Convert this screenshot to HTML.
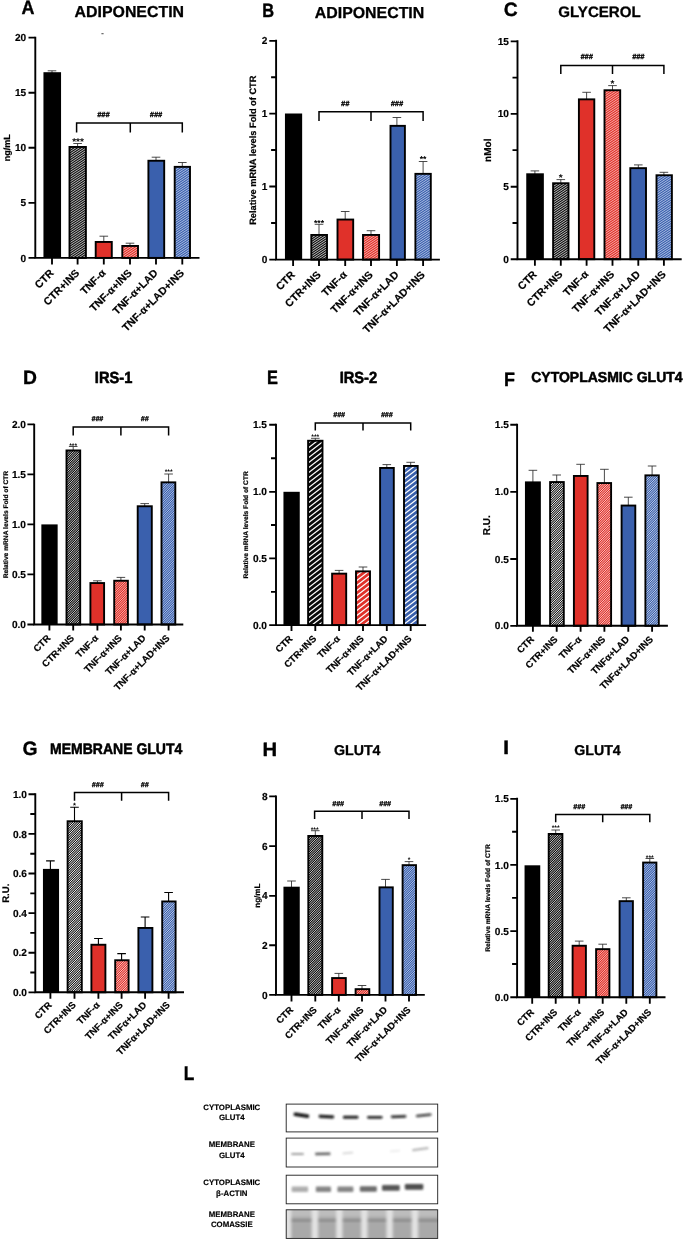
<!DOCTYPE html>
<html lang="en"><head><meta charset="utf-8"><title>Figure</title>
<style>html,body{margin:0;padding:0;background:#fff}body{width:685px;height:1240px;overflow:hidden}svg{display:block;will-change:transform;text-rendering:geometricPrecision}</style>
</head><body>
<svg width="685" height="1240" viewBox="0 0 685 1240" font-family='"Liberation Sans", Arial, Helvetica, sans-serif' fill="#000">
<defs>
<pattern id="hk" width="7" height="7" patternUnits="userSpaceOnUse"><rect width="7" height="7" fill="#101010"/><path d="M-3.500 2.333L10.500 -7.000M-3.500 4.667L10.500 -4.667M-3.500 7.000L10.500 -2.333M-3.500 9.333L10.500 -0.000M-3.500 11.667L10.500 2.333M-3.500 14.000L10.500 4.667" stroke="#e6e6e6" stroke-width="0.82" fill="none"/></pattern>
<pattern id="hr" width="7" height="7" patternUnits="userSpaceOnUse"><rect width="7" height="7" fill="#e0312a"/><path d="M-3.500 2.333L10.500 -7.000M-3.500 4.667L10.500 -4.667M-3.500 7.000L10.500 -2.333M-3.500 9.333L10.500 -0.000M-3.500 11.667L10.500 2.333M-3.500 14.000L10.500 4.667" stroke="#ffe4e1" stroke-width="0.7" fill="none"/></pattern>
<pattern id="hb" width="7" height="7" patternUnits="userSpaceOnUse"><rect width="7" height="7" fill="#3a60ad"/><path d="M-3.500 2.333L10.500 -7.000M-3.500 4.667L10.500 -4.667M-3.500 7.000L10.500 -2.333M-3.500 9.333L10.500 -0.000M-3.500 11.667L10.500 2.333M-3.500 14.000L10.500 4.667" stroke="#e3ebfc" stroke-width="0.68" fill="none"/></pattern>
<pattern id="hkc" width="13" height="10" patternUnits="userSpaceOnUse"><rect width="13" height="10" fill="#0a0a0a"/><path d="M-6.500 5.000L19.500 -15.000M-6.500 10.000L19.500 -10.000M-6.500 15.000L19.500 -5.000M-6.500 20.000L19.500 0.000M-6.500 25.000L19.500 5.000" stroke="#fff" stroke-width="1.25" fill="none"/></pattern>
<pattern id="hrc" width="13" height="10" patternUnits="userSpaceOnUse"><rect width="13" height="10" fill="#e0312a"/><path d="M-6.500 5.000L19.500 -15.000M-6.500 10.000L19.500 -10.000M-6.500 15.000L19.500 -5.000M-6.500 20.000L19.500 0.000M-6.500 25.000L19.500 5.000" stroke="#fff" stroke-width="1.25" fill="none"/></pattern>
<pattern id="hbc" width="13" height="10" patternUnits="userSpaceOnUse"><rect width="13" height="10" fill="#3a60ad"/><path d="M-6.500 5.000L19.500 -15.000M-6.500 10.000L19.500 -10.000M-6.500 15.000L19.500 -5.000M-6.500 20.000L19.500 0.000M-6.500 25.000L19.500 5.000" stroke="#fff" stroke-width="1.25" fill="none"/></pattern>
<pattern id="hkm" width="7" height="7" patternUnits="userSpaceOnUse"><rect width="7" height="7" fill="#101010"/><path d="M-2.333 2.333L9.333 -9.333M-2.333 4.667L9.333 -7.000M-2.333 7.000L9.333 -4.667M-2.333 9.333L9.333 -2.333M-2.333 11.667L9.333 0.000M-2.333 14.000L9.333 2.333M-2.333 16.333L9.333 4.667" stroke="#f0f0f0" stroke-width="0.8" fill="none"/></pattern>
<pattern id="hrm" width="7" height="7" patternUnits="userSpaceOnUse"><rect width="7" height="7" fill="#e0312a"/><path d="M-2.333 2.333L9.333 -9.333M-2.333 4.667L9.333 -7.000M-2.333 7.000L9.333 -4.667M-2.333 9.333L9.333 -2.333M-2.333 11.667L9.333 0.000M-2.333 14.000L9.333 2.333M-2.333 16.333L9.333 4.667" stroke="#ffe4e1" stroke-width="0.7" fill="none"/></pattern>
<pattern id="hbm" width="7" height="7" patternUnits="userSpaceOnUse"><rect width="7" height="7" fill="#3a60ad"/><path d="M-2.333 2.333L9.333 -9.333M-2.333 4.667L9.333 -7.000M-2.333 7.000L9.333 -4.667M-2.333 9.333L9.333 -2.333M-2.333 11.667L9.333 0.000M-2.333 14.000L9.333 2.333M-2.333 16.333L9.333 4.667" stroke="#e3ebfc" stroke-width="0.68" fill="none"/></pattern>
<pattern id="hkl" width="7" height="7" patternUnits="userSpaceOnUse"><rect width="7" height="7" fill="#1c1c1c"/><path d="M-2.333 2.333L9.333 -9.333M-2.333 4.667L9.333 -7.000M-2.333 7.000L9.333 -4.667M-2.333 9.333L9.333 -2.333M-2.333 11.667L9.333 0.000M-2.333 14.000L9.333 2.333M-2.333 16.333L9.333 4.667" stroke="#fff" stroke-width="0.93" fill="none"/></pattern>
<pattern id="hrl" width="7" height="7" patternUnits="userSpaceOnUse"><rect width="7" height="7" fill="#e0312a"/><path d="M-2.333 2.333L9.333 -9.333M-2.333 4.667L9.333 -7.000M-2.333 7.000L9.333 -4.667M-2.333 9.333L9.333 -2.333M-2.333 11.667L9.333 0.000M-2.333 14.000L9.333 2.333M-2.333 16.333L9.333 4.667" stroke="#fff" stroke-width="0.72" fill="none"/></pattern>
<pattern id="hbl" width="7" height="7" patternUnits="userSpaceOnUse"><rect width="7" height="7" fill="#3a60ad"/><path d="M-2.333 2.333L9.333 -9.333M-2.333 4.667L9.333 -7.000M-2.333 7.000L9.333 -4.667M-2.333 9.333L9.333 -2.333M-2.333 11.667L9.333 0.000M-2.333 14.000L9.333 2.333M-2.333 16.333L9.333 4.667" stroke="#fff" stroke-width="0.68" fill="none"/></pattern>
<filter id="bl" x="-20%" y="-100%" width="140%" height="300%"><feGaussianBlur stdDeviation="0.85"/></filter>
<filter id="bl2" x="-20%" y="-100%" width="140%" height="300%"><feGaussianBlur stdDeviation="1.6"/></filter>
<filter id="bl3" x="-100%" y="-10%" width="300%" height="120%"><feGaussianBlur stdDeviation="1.5 0.1"/></filter>
<filter id="bl4" x="-20%" y="-100%" width="140%" height="300%"><feGaussianBlur stdDeviation="0.95"/></filter>
</defs>
<rect width="685" height="1240" fill="#fff"/>
<g>
<text transform="translate(21.55 14.2) scale(0.93 1)" font-size="19.3" font-weight="bold" stroke="#000" stroke-width="0.38" stroke-linejoin="round">A</text>
<text transform="translate(129.3 16.9) scale(1 1)" font-size="15.9" font-weight="bold" text-anchor="middle" stroke="#000" stroke-width="0.3" stroke-linejoin="round">ADIPONECTIN</text>
<path d="M52 73.2V70.8M47.7 70.8H56.3" stroke="#2a2a2a" stroke-width="0.85" fill="none"/>
<rect x="43.45" y="72.2" width="17.6" height="185.7" fill="#000"/>
<path d="M77.6 147V143.5M73.3 143.5H81.9" stroke="#2a2a2a" stroke-width="0.85" fill="none"/>
<rect x="69.5" y="146.95" width="16.4" height="110.95" fill="url(#hk)" stroke="#000" stroke-width="1.9"/>
<path d="M103.8 242V236.2M99.5 236.2H108.1" stroke="#2a2a2a" stroke-width="0.85" fill="none"/>
<rect x="95.7" y="241.95" width="16.1" height="15.95" fill="#e0312a" stroke="#000" stroke-width="1.9"/>
<path d="M130 246V243.2M125.7 243.2H134.3" stroke="#2a2a2a" stroke-width="0.85" fill="none"/>
<rect x="122.3" y="245.95" width="15.7" height="11.95" fill="url(#hr)" stroke="#000" stroke-width="1.9"/>
<path d="M156 160.8V157.2M151.7 157.2H160.3" stroke="#2a2a2a" stroke-width="0.85" fill="none"/>
<rect x="148.4" y="160.75" width="15.8" height="97.15" fill="#3a60ad" stroke="#000" stroke-width="1.9"/>
<path d="M182.3 166.9V162.5M178 162.5H186.6" stroke="#2a2a2a" stroke-width="0.85" fill="none"/>
<rect x="174.7" y="166.85" width="15.3" height="91.05" fill="url(#hb)" stroke="#000" stroke-width="1.9"/>
<path d="M35.3 36.65V258.85M34.35 257.9H199.5" stroke="#000" stroke-width="1.9" fill="none"/>
<path d="M35.3 37.6H28.5M35.3 92.7H28.5M35.3 147.7H28.5M35.3 202.8H28.5M35.3 257.9H28.5M52 257.9V264.4M77.6 257.9V264.4M103.8 257.9V264.4M130 257.9V264.4M156 257.9V264.4M182.3 257.9V264.4" stroke="#000" stroke-width="1.85" fill="none"/>
<text x="26.2" y="41.22" font-size="10.1" font-weight="bold" text-anchor="end" stroke="#000" stroke-width="0.18">20</text>
<text x="26.2" y="96.32" font-size="10.1" font-weight="bold" text-anchor="end" stroke="#000" stroke-width="0.18">15</text>
<text x="26.2" y="151.32" font-size="10.1" font-weight="bold" text-anchor="end" stroke="#000" stroke-width="0.18">10</text>
<text x="26.2" y="206.42" font-size="10.1" font-weight="bold" text-anchor="end" stroke="#000" stroke-width="0.18">5</text>
<text x="26.2" y="261.52" font-size="10.1" font-weight="bold" text-anchor="end" stroke="#000" stroke-width="0.18">0</text>
<text transform="translate(6.9 147.75) rotate(-90)" font-size="9.0" font-weight="bold" text-anchor="middle" dy="3.22" stroke="#000" stroke-width="0.2">ng/mL</text>
<text transform="translate(54.5 273.7) rotate(-45)" font-size="10.6" font-weight="bold" text-anchor="end" stroke="#000" stroke-width="0.18">CTR</text>
<text transform="translate(80.1 273.7) rotate(-45)" font-size="10.6" font-weight="bold" text-anchor="end" stroke="#000" stroke-width="0.18">CTR+INS</text>
<text transform="translate(106.3 273.7) rotate(-45)" font-size="10.6" font-weight="bold" text-anchor="end" stroke="#000" stroke-width="0.18">TNF-α</text>
<text transform="translate(132.5 273.7) rotate(-45)" font-size="10.6" font-weight="bold" text-anchor="end" stroke="#000" stroke-width="0.18">TNF-α+INS</text>
<text transform="translate(158.5 273.7) rotate(-45)" font-size="10.6" font-weight="bold" text-anchor="end" stroke="#000" stroke-width="0.18">TNF-α+LAD</text>
<text transform="translate(184.8 273.7) rotate(-45)" font-size="10.6" font-weight="bold" text-anchor="end" stroke="#000" stroke-width="0.18">TNF-α+LAD+INS</text>
<path d="M76.6 132.6V122.9H182.3V132.6M130.3 122.9V132.6" stroke="#000" stroke-width="1.5" fill="none"/>
<text x="103.4" y="116.86" font-size="7.4" font-style="italic" font-weight="bold" text-anchor="middle" fill="#000" stroke="#000" stroke-width="0.3">###</text>
<text x="156" y="116.86" font-size="7.4" font-style="italic" font-weight="bold" text-anchor="middle" fill="#000" stroke="#000" stroke-width="0.3">###</text>
<text x="78" y="145.05" font-size="10" font-weight="bold" text-anchor="middle" fill="#000">***</text>
</g>
<g>
<text transform="translate(262.3 17.2) scale(0.85 1)" font-size="19.3" font-weight="bold" stroke="#000" stroke-width="0.41" stroke-linejoin="round">B</text>
<text transform="translate(369.5 17.6) scale(1 1)" font-size="15.9" font-weight="bold" text-anchor="middle" stroke="#000" stroke-width="0.3" stroke-linejoin="round">ADIPONECTIN</text>
<rect x="284.95" y="113.5" width="17.2" height="146.1" fill="#000"/>
<path d="M319 235V224.3M314.7 224.3H323.3" stroke="#2a2a2a" stroke-width="0.85" fill="none"/>
<rect x="311.3" y="234.95" width="15.7" height="24.65" fill="url(#hk)" stroke="#000" stroke-width="1.9"/>
<path d="M345.2 219.6V211.5M340.9 211.5H349.5" stroke="#2a2a2a" stroke-width="0.85" fill="none"/>
<rect x="337.5" y="219.55" width="15.7" height="40.05" fill="#e0312a" stroke="#000" stroke-width="1.9"/>
<path d="M371 235V230.7M366.7 230.7H375.3" stroke="#2a2a2a" stroke-width="0.85" fill="none"/>
<rect x="363" y="234.95" width="16.1" height="24.65" fill="url(#hr)" stroke="#000" stroke-width="1.9"/>
<path d="M396.9 125.9V117.5M392.6 117.5H401.2" stroke="#2a2a2a" stroke-width="0.85" fill="none"/>
<rect x="390.5" y="125.85" width="14.4" height="133.75" fill="#3a60ad" stroke="#000" stroke-width="1.9"/>
<path d="M423.1 173.9V161.5M418.8 161.5H427.4" stroke="#2a2a2a" stroke-width="0.85" fill="none"/>
<rect x="415.4" y="173.85" width="15.4" height="85.75" fill="url(#hb)" stroke="#000" stroke-width="1.9"/>
<path d="M276.1 39.85V260.55M275.15 259.6H439.9" stroke="#000" stroke-width="1.9" fill="none"/>
<path d="M276.1 40.8H269.3M276.1 113.6H269.3M276.1 186.5H269.3M276.1 259.6H269.3M276.1 77.2H271.1M276.1 150H271.1M276.1 223H271.1M293.1 259.6V266.1M319 259.6V266.1M345.2 259.6V266.1M371 259.6V266.1M396.9 259.6V266.1M423.1 259.6V266.1" stroke="#000" stroke-width="1.85" fill="none"/>
<text x="267.3" y="44.42" font-size="10.1" font-weight="bold" text-anchor="end" stroke="#000" stroke-width="0.18">2</text>
<text x="267.3" y="117.22" font-size="10.1" font-weight="bold" text-anchor="end" stroke="#000" stroke-width="0.18">1</text>
<text x="267.3" y="190.12" font-size="10.1" font-weight="bold" text-anchor="end" stroke="#000" stroke-width="0.18">1</text>
<text x="267.3" y="263.22" font-size="10.1" font-weight="bold" text-anchor="end" stroke="#000" stroke-width="0.18">0</text>
<text transform="translate(252.8 150.2) rotate(-90)" font-size="9.26" font-weight="bold" text-anchor="middle" dy="3.32" stroke="#000" stroke-width="0.2">Relative mRNA levels Fold of CTR</text>
<text transform="translate(295.6 275.4) rotate(-45)" font-size="10.6" font-weight="bold" text-anchor="end" stroke="#000" stroke-width="0.18">CTR</text>
<text transform="translate(321.5 275.4) rotate(-45)" font-size="10.6" font-weight="bold" text-anchor="end" stroke="#000" stroke-width="0.18">CTR+INS</text>
<text transform="translate(347.7 275.4) rotate(-45)" font-size="10.6" font-weight="bold" text-anchor="end" stroke="#000" stroke-width="0.18">TNF-α</text>
<text transform="translate(373.5 275.4) rotate(-45)" font-size="10.6" font-weight="bold" text-anchor="end" stroke="#000" stroke-width="0.18">TNF-α+INS</text>
<text transform="translate(399.4 275.4) rotate(-45)" font-size="10.6" font-weight="bold" text-anchor="end" stroke="#000" stroke-width="0.18">TNF-α+LAD</text>
<text transform="translate(425.6 275.4) rotate(-45)" font-size="10.6" font-weight="bold" text-anchor="end" stroke="#000" stroke-width="0.18">TNF-α+LAD+INS</text>
<path d="M319 120.9V111.8H423.1V120.9M371 111.8V120.9" stroke="#000" stroke-width="1.5" fill="none"/>
<text x="345.2" y="105.66" font-size="7.4" font-style="italic" font-weight="bold" text-anchor="middle" fill="#000" stroke="#000" stroke-width="0.3">##</text>
<text x="396.9" y="105.66" font-size="7.4" font-style="italic" font-weight="bold" text-anchor="middle" fill="#000" stroke="#000" stroke-width="0.3">###</text>
<text x="319" y="225.94" font-size="8.6" font-weight="bold" text-anchor="middle" fill="#000">***</text>
<text x="423.1" y="162.44" font-size="8.6" font-weight="bold" text-anchor="middle" fill="#000">**</text>
</g>
<g>
<text transform="translate(503.71 16.2) scale(1.0 1)" font-size="19.3" font-weight="bold" stroke="#000" stroke-width="0.35" stroke-linejoin="round">C</text>
<text transform="translate(599.5 17.4) scale(1 1)" font-size="15.1" font-weight="bold" text-anchor="middle" stroke="#000" stroke-width="0.3" stroke-linejoin="round">GLYCEROL</text>
<path d="M534.9 174.3V170.9M530.6 170.9H539.2" stroke="#2a2a2a" stroke-width="0.85" fill="none"/>
<rect x="526.25" y="173.3" width="17.6" height="85.9" fill="#000"/>
<path d="M560.8 183.3V179.6M556.5 179.6H565.1" stroke="#2a2a2a" stroke-width="0.85" fill="none"/>
<rect x="553.1" y="183.25" width="15.4" height="75.95" fill="url(#hk)" stroke="#000" stroke-width="1.9"/>
<path d="M586.6 99.4V92.3M582.3 92.3H590.9" stroke="#2a2a2a" stroke-width="0.85" fill="none"/>
<rect x="578.9" y="99.35" width="15.4" height="159.85" fill="#e0312a" stroke="#000" stroke-width="1.9"/>
<path d="M612.5 90.3V85.6M608.2 85.6H616.8" stroke="#2a2a2a" stroke-width="0.85" fill="none"/>
<rect x="604.5" y="90.25" width="15.7" height="168.95" fill="url(#hr)" stroke="#000" stroke-width="1.9"/>
<path d="M638.3 168.2V164.9M634 164.9H642.6" stroke="#2a2a2a" stroke-width="0.85" fill="none"/>
<rect x="630.3" y="168.15" width="15.7" height="91.05" fill="#3a60ad" stroke="#000" stroke-width="1.9"/>
<path d="M663.9 175.3V172.3M659.6 172.3H668.2" stroke="#2a2a2a" stroke-width="0.85" fill="none"/>
<rect x="656.5" y="175.25" width="15.4" height="83.95" fill="url(#hb)" stroke="#000" stroke-width="1.9"/>
<path d="M517.5 40.35V260.15M516.55 259.2H681.7" stroke="#000" stroke-width="1.9" fill="none"/>
<path d="M517.5 41.3H510.7M517.5 113.8H510.7M517.5 186.7H510.7M517.5 259.2H510.7M517.5 77.6H512.5M517.5 150.1H512.5M517.5 223H512.5M534.9 259.2V265.7M560.8 259.2V265.7M586.6 259.2V265.7M612.5 259.2V265.7M638.3 259.2V265.7M663.9 259.2V265.7" stroke="#000" stroke-width="1.85" fill="none"/>
<text x="508.9" y="44.92" font-size="10.1" font-weight="bold" text-anchor="end" stroke="#000" stroke-width="0.18">15</text>
<text x="508.9" y="117.42" font-size="10.1" font-weight="bold" text-anchor="end" stroke="#000" stroke-width="0.18">10</text>
<text x="508.9" y="190.32" font-size="10.1" font-weight="bold" text-anchor="end" stroke="#000" stroke-width="0.18">5</text>
<text x="508.9" y="262.82" font-size="10.1" font-weight="bold" text-anchor="end" stroke="#000" stroke-width="0.18">0</text>
<text transform="translate(487.6 150.25) rotate(-90)" font-size="10.0" font-weight="bold" text-anchor="middle" dy="3.58" stroke="#000" stroke-width="0.2">nMol</text>
<text transform="translate(537.4 275) rotate(-45)" font-size="10.6" font-weight="bold" text-anchor="end" stroke="#000" stroke-width="0.18">CTR</text>
<text transform="translate(563.3 275) rotate(-45)" font-size="10.6" font-weight="bold" text-anchor="end" stroke="#000" stroke-width="0.18">CTR+INS</text>
<text transform="translate(589.1 275) rotate(-45)" font-size="10.6" font-weight="bold" text-anchor="end" stroke="#000" stroke-width="0.18">TNF-α</text>
<text transform="translate(615 275) rotate(-45)" font-size="10.6" font-weight="bold" text-anchor="end" stroke="#000" stroke-width="0.18">TNF-α+INS</text>
<text transform="translate(640.8 275) rotate(-45)" font-size="10.6" font-weight="bold" text-anchor="end" stroke="#000" stroke-width="0.18">TNF-α+LAD</text>
<text transform="translate(666.4 275) rotate(-45)" font-size="10.6" font-weight="bold" text-anchor="end" stroke="#000" stroke-width="0.18">TNF-α+LAD+INS</text>
<path d="M560.8 73.9V65.5H663.9V73.9M612.5 65.5V73.9" stroke="#000" stroke-width="1.5" fill="none"/>
<text x="586.6" y="58.66" font-size="7.4" font-style="italic" font-weight="bold" text-anchor="middle" fill="#000" stroke="#000" stroke-width="0.3">###</text>
<text x="638.3" y="58.66" font-size="7.4" font-style="italic" font-weight="bold" text-anchor="middle" fill="#000" stroke="#000" stroke-width="0.3">###</text>
<text x="560.8" y="181.15" font-size="10" font-weight="bold" text-anchor="middle" fill="#000">*</text>
<text x="612.5" y="87.15" font-size="10" font-weight="bold" text-anchor="middle" fill="#000">*</text>
</g>
<g>
<text transform="translate(22.91 383.6) scale(1.0 1)" font-size="19.3" font-weight="bold" stroke="#000" stroke-width="0.35" stroke-linejoin="round">D</text>
<text transform="translate(113.6 383.3) scale(0.91 1)" font-size="16.15" font-weight="bold" text-anchor="middle" stroke="#000" stroke-width="0.55" stroke-linejoin="round">IRS-1</text>
<rect x="41.35" y="524.4" width="16.3" height="100.1" fill="#000"/>
<path d="M73.2 450.5V446.5M68.9 446.5H77.5" stroke="#2a2a2a" stroke-width="0.85" fill="none"/>
<rect x="66.5" y="450.45" width="13.7" height="174.05" fill="url(#hkm)" stroke="#000" stroke-width="1.9"/>
<path d="M97.4 583.1V580.8M93.1 580.8H101.7" stroke="#2a2a2a" stroke-width="0.85" fill="none"/>
<rect x="90.4" y="583.05" width="13.7" height="41.45" fill="#e0312a" stroke="#000" stroke-width="1.9"/>
<path d="M120.9 580.8V577.4M116.6 577.4H125.2" stroke="#2a2a2a" stroke-width="0.85" fill="none"/>
<rect x="114.2" y="580.75" width="13.7" height="43.75" fill="url(#hrm)" stroke="#000" stroke-width="1.9"/>
<path d="M144.7 506.3V503.6M140.4 503.6H149" stroke="#2a2a2a" stroke-width="0.85" fill="none"/>
<rect x="137.7" y="506.25" width="14.1" height="118.25" fill="#3a60ad" stroke="#000" stroke-width="1.9"/>
<path d="M168.6 482.4V474M164.3 474H172.9" stroke="#2a2a2a" stroke-width="0.85" fill="none"/>
<rect x="161.5" y="482.35" width="13.8" height="142.15" fill="url(#hbm)" stroke="#000" stroke-width="1.9"/>
<path d="M34.2 423.65V625.45M33.25 624.5H183.3" stroke="#000" stroke-width="1.9" fill="none"/>
<path d="M34.2 424.3H27.4M34.2 474.4H27.4M34.2 524.4H27.4M34.2 574.4H27.4M34.2 624.5H27.4M49.4 624.5V630.5M73.2 624.5V630.5M97.4 624.5V630.5M120.9 624.5V630.5M144.7 624.5V630.5M168.6 624.5V630.5" stroke="#000" stroke-width="1.85" fill="none"/>
<text x="26" y="427.92" font-size="10.1" font-weight="bold" text-anchor="end" stroke="#000" stroke-width="0.18">2.0</text>
<text x="26" y="478.02" font-size="10.1" font-weight="bold" text-anchor="end" stroke="#000" stroke-width="0.18">1.5</text>
<text x="26" y="528.02" font-size="10.1" font-weight="bold" text-anchor="end" stroke="#000" stroke-width="0.18">1.0</text>
<text x="26" y="578.02" font-size="10.1" font-weight="bold" text-anchor="end" stroke="#000" stroke-width="0.18">0.5</text>
<text x="26" y="628.12" font-size="10.1" font-weight="bold" text-anchor="end" stroke="#000" stroke-width="0.18">0.0</text>
<text transform="translate(5.7 524.55) rotate(-90)" font-size="6.66" font-weight="bold" text-anchor="middle" dy="2.38" stroke="#000" stroke-width="0.2">Relative mRNA levels Fold of CTR</text>
<text transform="translate(51 638.7) rotate(-45)" font-size="9.5" font-weight="bold" text-anchor="end" stroke="#000" stroke-width="0.18">CTR</text>
<text transform="translate(74.8 638.7) rotate(-45)" font-size="9.5" font-weight="bold" text-anchor="end" stroke="#000" stroke-width="0.18">CTR+INS</text>
<text transform="translate(99 638.7) rotate(-45)" font-size="9.5" font-weight="bold" text-anchor="end" stroke="#000" stroke-width="0.18">TNF-α</text>
<text transform="translate(122.5 638.7) rotate(-45)" font-size="9.5" font-weight="bold" text-anchor="end" stroke="#000" stroke-width="0.18">TNF-α+INS</text>
<text transform="translate(146.3 638.7) rotate(-45)" font-size="9.5" font-weight="bold" text-anchor="end" stroke="#000" stroke-width="0.18">TNF-α+LAD</text>
<text transform="translate(170.2 638.7) rotate(-45)" font-size="9.5" font-weight="bold" text-anchor="end" stroke="#000" stroke-width="0.18">TNF-α+LAD+INS</text>
<path d="M73.2 435.4V427H168.6V435.4M120.9 427V435.4" stroke="#000" stroke-width="1.5" fill="none"/>
<text x="97.4" y="421.32" font-size="6.99" font-style="italic" font-weight="bold" text-anchor="middle" fill="#000" stroke="#000" stroke-width="0.3">###</text>
<text x="144.7" y="421.32" font-size="6.99" font-style="italic" font-weight="bold" text-anchor="middle" fill="#000" stroke="#000" stroke-width="0.3">##</text>
<text x="73.2" y="447.51" font-size="6.8" font-weight="bold" text-anchor="middle" fill="#000">***</text>
<text x="168.6" y="474.31" font-size="6.8" font-weight="bold" text-anchor="middle" fill="#000">***</text>
</g>
<g>
<text transform="translate(267.1 383.6) scale(0.85 1)" font-size="19.3" font-weight="bold" stroke="#000" stroke-width="0.41" stroke-linejoin="round">E</text>
<text transform="translate(358.4 383.3) scale(0.91 1)" font-size="16.15" font-weight="bold" text-anchor="middle" stroke="#000" stroke-width="0.55" stroke-linejoin="round">IRS-2</text>
<rect x="283.45" y="491.8" width="16.3" height="133.3" fill="#000"/>
<path d="M315.3 440.8V438.3M311 438.3H319.6" stroke="#2a2a2a" stroke-width="0.85" fill="none"/>
<rect x="308.1" y="440.75" width="14.4" height="184.35" fill="url(#hkc)" stroke="#000" stroke-width="1.9"/>
<path d="M339.1 573.7V570.4M334.8 570.4H343.4" stroke="#2a2a2a" stroke-width="0.85" fill="none"/>
<rect x="332.1" y="573.65" width="14.1" height="51.45" fill="#e0312a" stroke="#000" stroke-width="1.9"/>
<path d="M363 571.4V567M358.7 567H367.3" stroke="#2a2a2a" stroke-width="0.85" fill="none"/>
<rect x="356" y="571.35" width="14" height="53.75" fill="url(#hrc)" stroke="#000" stroke-width="1.9"/>
<path d="M386.8 468V464.6M382.5 464.6H391.1" stroke="#2a2a2a" stroke-width="0.85" fill="none"/>
<rect x="380.1" y="467.95" width="13.7" height="157.15" fill="#3a60ad" stroke="#000" stroke-width="1.9"/>
<path d="M410.7 466V462.3M406.4 462.3H415" stroke="#2a2a2a" stroke-width="0.85" fill="none"/>
<rect x="404" y="465.95" width="13.7" height="159.15" fill="url(#hbc)" stroke="#000" stroke-width="1.9"/>
<path d="M276 423.75V626.05M275.05 625.1H426.1" stroke="#000" stroke-width="1.9" fill="none"/>
<path d="M276 424.7H269.2M276 491.8H269.2M276 558.3H269.2M276 625.1H269.2M276 458.2H271M276 525H271M276 591.9H271M291.5 625.1V631.1M315.3 625.1V631.1M339.1 625.1V631.1M363 625.1V631.1M386.8 625.1V631.1M410.7 625.1V631.1" stroke="#000" stroke-width="1.85" fill="none"/>
<text x="267" y="428.32" font-size="10.1" font-weight="bold" text-anchor="end" stroke="#000" stroke-width="0.18">1.5</text>
<text x="267" y="495.42" font-size="10.1" font-weight="bold" text-anchor="end" stroke="#000" stroke-width="0.18">1.0</text>
<text x="267" y="561.92" font-size="10.1" font-weight="bold" text-anchor="end" stroke="#000" stroke-width="0.18">0.5</text>
<text x="267" y="628.72" font-size="10.1" font-weight="bold" text-anchor="end" stroke="#000" stroke-width="0.18">0.0</text>
<text transform="translate(246.1 524.9) rotate(-90)" font-size="6.66" font-weight="bold" text-anchor="middle" dy="2.38" stroke="#000" stroke-width="0.2">Relative mRNA levels Fold of CTR</text>
<text transform="translate(293.1 639.3) rotate(-45)" font-size="9.5" font-weight="bold" text-anchor="end" stroke="#000" stroke-width="0.18">CTR</text>
<text transform="translate(316.9 639.3) rotate(-45)" font-size="9.5" font-weight="bold" text-anchor="end" stroke="#000" stroke-width="0.18">CTR+INS</text>
<text transform="translate(340.7 639.3) rotate(-45)" font-size="9.5" font-weight="bold" text-anchor="end" stroke="#000" stroke-width="0.18">TNF-α</text>
<text transform="translate(364.6 639.3) rotate(-45)" font-size="9.5" font-weight="bold" text-anchor="end" stroke="#000" stroke-width="0.18">TNF-α+INS</text>
<text transform="translate(388.4 639.3) rotate(-45)" font-size="9.5" font-weight="bold" text-anchor="end" stroke="#000" stroke-width="0.18">TNF-α+LAD</text>
<text transform="translate(412.3 639.3) rotate(-45)" font-size="9.5" font-weight="bold" text-anchor="end" stroke="#000" stroke-width="0.18">TNF-α+LAD+INS</text>
<path d="M315.3 430.4V423H410.7V430.4M363 423V430.4" stroke="#000" stroke-width="1.5" fill="none"/>
<text x="339.1" y="417.32" font-size="6.99" font-style="italic" font-weight="bold" text-anchor="middle" fill="#000" stroke="#000" stroke-width="0.3">###</text>
<text x="386.8" y="417.32" font-size="6.99" font-style="italic" font-weight="bold" text-anchor="middle" fill="#000" stroke="#000" stroke-width="0.3">###</text>
<text x="315.3" y="439.41" font-size="6.8" font-weight="bold" text-anchor="middle" fill="#000">***</text>
</g>
<g>
<text transform="translate(504 385.6) scale(0.93 1)" font-size="19.3" font-weight="bold" stroke="#000" stroke-width="0.38" stroke-linejoin="round">F</text>
<text transform="translate(606.9 382.4) scale(0.97 1)" font-size="14.43" font-weight="bold" text-anchor="middle" stroke="#000" stroke-width="0.55" stroke-linejoin="round">CYTOPLASMIC GLUT4</text>
<path d="M532.9 482.4V470.3M528.6 470.3H537.2" stroke="#2a2a2a" stroke-width="0.85" fill="none"/>
<rect x="524.95" y="481.4" width="15.9" height="144.4" fill="#000"/>
<path d="M556.7 482.1V475M552.4 475H561" stroke="#2a2a2a" stroke-width="0.85" fill="none"/>
<rect x="550.1" y="482.05" width="13.7" height="143.75" fill="url(#hkl)" stroke="#000" stroke-width="1.9"/>
<path d="M580.6 476V464.3M576.3 464.3H584.9" stroke="#2a2a2a" stroke-width="0.85" fill="none"/>
<rect x="573.9" y="475.95" width="13.7" height="149.85" fill="#e0312a" stroke="#000" stroke-width="1.9"/>
<path d="M604.4 483.1V469.3M600.1 469.3H608.7" stroke="#2a2a2a" stroke-width="0.85" fill="none"/>
<rect x="597.4" y="483.05" width="13.7" height="142.75" fill="url(#hrl)" stroke="#000" stroke-width="1.9"/>
<path d="M628.3 505.6V497.2M624 497.2H632.6" stroke="#2a2a2a" stroke-width="0.85" fill="none"/>
<rect x="621.6" y="505.55" width="13.7" height="120.25" fill="#3a60ad" stroke="#000" stroke-width="1.9"/>
<path d="M652.1 475.4V466M647.8 466H656.4" stroke="#2a2a2a" stroke-width="0.85" fill="none"/>
<rect x="645.4" y="475.35" width="13.4" height="150.45" fill="url(#hbl)" stroke="#000" stroke-width="1.9"/>
<path d="M517.1 423.75V626.75M516.15 625.8H667.9" stroke="#000" stroke-width="1.9" fill="none"/>
<path d="M517.1 424.7H510.3M517.1 491.8H510.3M517.1 559H510.3M517.1 625.8H510.3M532.9 625.8V631.8M556.7 625.8V631.8M580.6 625.8V631.8M604.4 625.8V631.8M628.3 625.8V631.8M652.1 625.8V631.8" stroke="#000" stroke-width="1.85" fill="none"/>
<text x="508.9" y="428.32" font-size="10.1" font-weight="bold" text-anchor="end" stroke="#000" stroke-width="0.18">1.5</text>
<text x="508.9" y="495.42" font-size="10.1" font-weight="bold" text-anchor="end" stroke="#000" stroke-width="0.18">1.0</text>
<text x="508.9" y="562.62" font-size="10.1" font-weight="bold" text-anchor="end" stroke="#000" stroke-width="0.18">0.5</text>
<text x="508.9" y="629.42" font-size="10.1" font-weight="bold" text-anchor="end" stroke="#000" stroke-width="0.18">0.0</text>
<text transform="translate(486.2 525.25) rotate(-90)" font-size="10.0" font-weight="bold" text-anchor="middle" dy="3.58" stroke="#000" stroke-width="0.2">R.U.</text>
<text transform="translate(534.5 640) rotate(-45)" font-size="9.5" font-weight="bold" text-anchor="end" stroke="#000" stroke-width="0.18">CTR</text>
<text transform="translate(558.3 640) rotate(-45)" font-size="9.5" font-weight="bold" text-anchor="end" stroke="#000" stroke-width="0.18">CTR+INS</text>
<text transform="translate(582.2 640) rotate(-45)" font-size="9.5" font-weight="bold" text-anchor="end" stroke="#000" stroke-width="0.18">TNF-α</text>
<text transform="translate(606 640) rotate(-45)" font-size="9.5" font-weight="bold" text-anchor="end" stroke="#000" stroke-width="0.18">TNF-α+INS</text>
<text transform="translate(629.9 640) rotate(-45)" font-size="9.5" font-weight="bold" text-anchor="end" stroke="#000" stroke-width="0.18">TNFα+LAD</text>
<text transform="translate(653.7 640) rotate(-45)" font-size="9.5" font-weight="bold" text-anchor="end" stroke="#000" stroke-width="0.18">TNFα+LAD+INS</text>
</g>
<g>
<text transform="translate(22.61 755.2) scale(1.0 1)" font-size="19.3" font-weight="bold" stroke="#000" stroke-width="0.35" stroke-linejoin="round">G</text>
<text transform="translate(116.2 754.1) scale(0.92 1)" font-size="15.22" font-weight="bold" text-anchor="middle" stroke="#000" stroke-width="0.55" stroke-linejoin="round">MEMBRANE GLUT4</text>
<path d="M50.4 869.9V860.9M46.1 860.9H54.7" stroke="#000" stroke-width="1.1" fill="none"/>
<rect x="42.95" y="868.9" width="16.1" height="123.4" fill="#000"/>
<path d="M74.5 821.3V807.2M70.2 807.2H78.8" stroke="#000" stroke-width="1.1" fill="none"/>
<rect x="67.6" y="821.25" width="14.2" height="171.05" fill="url(#hkl)" stroke="#000" stroke-width="1.9"/>
<path d="M98.4 944.8V938.5M94.1 938.5H102.7" stroke="#000" stroke-width="1.1" fill="none"/>
<rect x="91.4" y="944.75" width="14" height="47.55" fill="#e0312a" stroke="#000" stroke-width="1.9"/>
<path d="M121.6 960.3V953.6M117.3 953.6H125.9" stroke="#000" stroke-width="1.1" fill="none"/>
<rect x="115.2" y="960.25" width="13.4" height="32.05" fill="url(#hrl)" stroke="#000" stroke-width="1.9"/>
<path d="M145.1 928V917M140.8 917H149.4" stroke="#000" stroke-width="1.1" fill="none"/>
<rect x="138.4" y="927.95" width="14" height="64.35" fill="#3a60ad" stroke="#000" stroke-width="1.9"/>
<path d="M168.6 901.5V892.5M164.3 892.5H172.9" stroke="#000" stroke-width="1.1" fill="none"/>
<rect x="162.2" y="901.45" width="13.4" height="90.85" fill="url(#hbl)" stroke="#000" stroke-width="1.9"/>
<path d="M35.3 793.25V993.25M34.35 992.3H184" stroke="#000" stroke-width="1.9" fill="none"/>
<path d="M35.3 794.2H28.5M35.3 833.9H28.5M35.3 873.5H28.5M35.3 913.1H28.5M35.3 952.7H28.5M35.3 992.3H28.5M35.3 814H30.3M35.3 853.7H30.3M35.3 893.3H30.3M35.3 932.9H30.3M35.3 972.5H30.3M50.4 992.3V998.8M74.5 992.3V998.8M98.4 992.3V998.8M121.6 992.3V998.8M145.1 992.3V998.8M168.6 992.3V998.8" stroke="#000" stroke-width="1.85" fill="none"/>
<text x="27" y="797.82" font-size="10.1" font-weight="bold" text-anchor="end" stroke="#000" stroke-width="0.18">1.0</text>
<text x="27" y="837.52" font-size="10.1" font-weight="bold" text-anchor="end" stroke="#000" stroke-width="0.18">0.8</text>
<text x="27" y="877.12" font-size="10.1" font-weight="bold" text-anchor="end" stroke="#000" stroke-width="0.18">0.6</text>
<text x="27" y="916.72" font-size="10.1" font-weight="bold" text-anchor="end" stroke="#000" stroke-width="0.18">0.4</text>
<text x="27" y="956.32" font-size="10.1" font-weight="bold" text-anchor="end" stroke="#000" stroke-width="0.18">0.2</text>
<text x="27" y="995.92" font-size="10.1" font-weight="bold" text-anchor="end" stroke="#000" stroke-width="0.18">0.0</text>
<text transform="translate(5.9 893.25) rotate(-90)" font-size="9.6" font-weight="bold" text-anchor="middle" dy="3.44" stroke="#000" stroke-width="0.2">R.U.</text>
<text transform="translate(52.3 1005.6) rotate(-45)" font-size="9.5" font-weight="bold" text-anchor="end" stroke="#000" stroke-width="0.18">CTR</text>
<text transform="translate(76.4 1005.6) rotate(-45)" font-size="9.5" font-weight="bold" text-anchor="end" stroke="#000" stroke-width="0.18">CTR+INS</text>
<text transform="translate(100.3 1005.6) rotate(-45)" font-size="9.5" font-weight="bold" text-anchor="end" stroke="#000" stroke-width="0.18">TNF-α</text>
<text transform="translate(123.5 1005.6) rotate(-45)" font-size="9.5" font-weight="bold" text-anchor="end" stroke="#000" stroke-width="0.18">TNF-α+INS</text>
<text transform="translate(147 1005.6) rotate(-45)" font-size="9.5" font-weight="bold" text-anchor="end" stroke="#000" stroke-width="0.18">TNFα+LAD</text>
<text transform="translate(170.5 1005.6) rotate(-45)" font-size="9.5" font-weight="bold" text-anchor="end" stroke="#000" stroke-width="0.18">TNFα+LAD+INS</text>
<path d="M74.5 800.8V792.6H168.6V800.8M121.6 792.6V800.8" stroke="#000" stroke-width="1.5" fill="none"/>
<text x="97.7" y="787.22" font-size="6.99" font-style="italic" font-weight="bold" text-anchor="middle" fill="#000" stroke="#000" stroke-width="0.3">###</text>
<text x="144.7" y="787.22" font-size="6.99" font-style="italic" font-weight="bold" text-anchor="middle" fill="#000" stroke="#000" stroke-width="0.3">##</text>
<text x="74.5" y="807.57" font-size="7.6" font-weight="bold" text-anchor="middle" fill="#000">*</text>
</g>
<g>
<text transform="translate(262.54 755.7) scale(1.05 1)" font-size="19.3" font-weight="bold" stroke="#000" stroke-width="0.33" stroke-linejoin="round">H</text>
<text transform="translate(357.2 755.2) scale(1 1)" font-size="14.2" font-weight="bold" text-anchor="middle" stroke="#000" stroke-width="0.3" stroke-linejoin="round">GLUT4</text>
<path d="M291.5 887.7V881M287.2 881H295.8" stroke="#2a2a2a" stroke-width="0.85" fill="none"/>
<rect x="283.45" y="886.7" width="16.3" height="108.2" fill="#000"/>
<path d="M315.3 836V830.7M311 830.7H319.6" stroke="#2a2a2a" stroke-width="0.85" fill="none"/>
<rect x="308.3" y="835.95" width="14" height="158.95" fill="url(#hkm)" stroke="#000" stroke-width="1.9"/>
<path d="M338.8 978.1V973.4M334.5 973.4H343.1" stroke="#2a2a2a" stroke-width="0.85" fill="none"/>
<rect x="332.1" y="978.05" width="13.7" height="16.85" fill="#e0312a" stroke="#000" stroke-width="1.9"/>
<path d="M362 989.2V985.5M357.7 985.5H366.3" stroke="#2a2a2a" stroke-width="0.85" fill="none"/>
<rect x="355.6" y="989.15" width="13.7" height="5.75" fill="url(#hrm)" stroke="#000" stroke-width="1.9"/>
<path d="M385.5 887.4V879.4M381.2 879.4H389.8" stroke="#2a2a2a" stroke-width="0.85" fill="none"/>
<rect x="379.5" y="887.35" width="13.3" height="107.55" fill="#3a60ad" stroke="#000" stroke-width="1.9"/>
<path d="M409 865.2V861.6M404.7 861.6H413.3" stroke="#2a2a2a" stroke-width="0.85" fill="none"/>
<rect x="402.6" y="865.15" width="13.4" height="129.75" fill="url(#hbm)" stroke="#000" stroke-width="1.9"/>
<path d="M276 795.45V995.85M275.05 994.9H424.8" stroke="#000" stroke-width="1.9" fill="none"/>
<path d="M276 796.4H269.2M276 846.1H269.2M276 895.8H269.2M276 945.2H269.2M276 994.9H269.2M291.5 994.9V1001.4M315.3 994.9V1001.4M338.8 994.9V1001.4M362 994.9V1001.4M385.5 994.9V1001.4M409 994.9V1001.4" stroke="#000" stroke-width="1.85" fill="none"/>
<text x="267.6" y="800.02" font-size="10.1" font-weight="bold" text-anchor="end" stroke="#000" stroke-width="0.18">8</text>
<text x="267.6" y="849.72" font-size="10.1" font-weight="bold" text-anchor="end" stroke="#000" stroke-width="0.18">6</text>
<text x="267.6" y="899.42" font-size="10.1" font-weight="bold" text-anchor="end" stroke="#000" stroke-width="0.18">4</text>
<text x="267.6" y="948.82" font-size="10.1" font-weight="bold" text-anchor="end" stroke="#000" stroke-width="0.18">2</text>
<text x="267.6" y="998.52" font-size="10.1" font-weight="bold" text-anchor="end" stroke="#000" stroke-width="0.18">0</text>
<text transform="translate(256.9 895.65) rotate(-90)" font-size="8.0" font-weight="bold" text-anchor="middle" dy="2.86" stroke="#000" stroke-width="0.2">ng/mL</text>
<text transform="translate(293.8 1010.5) rotate(-45)" font-size="9.5" font-weight="bold" text-anchor="end" stroke="#000" stroke-width="0.18">CTR</text>
<text transform="translate(317.6 1010.5) rotate(-45)" font-size="9.5" font-weight="bold" text-anchor="end" stroke="#000" stroke-width="0.18">CTR+INS</text>
<text transform="translate(341.1 1010.5) rotate(-45)" font-size="9.5" font-weight="bold" text-anchor="end" stroke="#000" stroke-width="0.18">TNF-α</text>
<text transform="translate(364.3 1010.5) rotate(-45)" font-size="9.5" font-weight="bold" text-anchor="end" stroke="#000" stroke-width="0.18">TNF-α+INS</text>
<text transform="translate(387.8 1010.5) rotate(-45)" font-size="9.5" font-weight="bold" text-anchor="end" stroke="#000" stroke-width="0.18">TNF-α+LAD</text>
<text transform="translate(411.3 1010.5) rotate(-45)" font-size="9.5" font-weight="bold" text-anchor="end" stroke="#000" stroke-width="0.18">TNF-α+LAD+INS</text>
<path d="M314.6 818.9V811.2H409V818.9M362 811.2V818.9" stroke="#000" stroke-width="1.5" fill="none"/>
<text x="338.1" y="805.82" font-size="6.99" font-style="italic" font-weight="bold" text-anchor="middle" fill="#000" stroke="#000" stroke-width="0.3">###</text>
<text x="385.1" y="805.82" font-size="6.99" font-style="italic" font-weight="bold" text-anchor="middle" fill="#000" stroke="#000" stroke-width="0.3">###</text>
<text x="314.6" y="832.01" font-size="6.8" font-weight="bold" text-anchor="middle" fill="#000">***</text>
<text x="409" y="861.51" font-size="6.8" font-weight="bold" text-anchor="middle" fill="#000">*</text>
</g>
<g>
<text transform="translate(503.01 754.3) scale(1.15 1)" font-size="19.3" font-weight="bold" stroke="#000" stroke-width="0.3" stroke-linejoin="round">I</text>
<text transform="translate(597.5 755.2) scale(1 1)" font-size="14.2" font-weight="bold" text-anchor="middle" stroke="#000" stroke-width="0.3" stroke-linejoin="round">GLUT4</text>
<rect x="524.55" y="865.3" width="15.7" height="131.9" fill="#000"/>
<path d="M555.7 834V830M551.4 830H560" stroke="#2a2a2a" stroke-width="0.85" fill="none"/>
<rect x="548.7" y="833.95" width="13.7" height="163.25" fill="url(#hkm)" stroke="#000" stroke-width="1.9"/>
<path d="M579.2 945.8V941.1M574.9 941.1H583.5" stroke="#2a2a2a" stroke-width="0.85" fill="none"/>
<rect x="572.6" y="945.75" width="13.3" height="51.45" fill="#e0312a" stroke="#000" stroke-width="1.9"/>
<path d="M602.7 949.2V944.2M598.4 944.2H607" stroke="#2a2a2a" stroke-width="0.85" fill="none"/>
<rect x="596.1" y="949.15" width="13.3" height="48.05" fill="url(#hrm)" stroke="#000" stroke-width="1.9"/>
<path d="M626.3 901.2V897.8M622 897.8H630.6" stroke="#2a2a2a" stroke-width="0.85" fill="none"/>
<rect x="619.6" y="901.15" width="13.3" height="96.05" fill="#3a60ad" stroke="#000" stroke-width="1.9"/>
<path d="M649.8 862.6V858.5M645.5 858.5H654.1" stroke="#2a2a2a" stroke-width="0.85" fill="none"/>
<rect x="643.1" y="862.55" width="13.3" height="134.65" fill="url(#hbm)" stroke="#000" stroke-width="1.9"/>
<path d="M517.1 797.85V998.15M516.15 997.2H665.5" stroke="#000" stroke-width="1.9" fill="none"/>
<path d="M517.1 798.8H510.3M517.1 864.9H510.3M517.1 931.1H510.3M517.1 997.2H510.3M517.1 831.7H512.1M517.1 897.8H512.1M517.1 964H512.1M532.2 997.2V1003.7M555.7 997.2V1003.7M579.2 997.2V1003.7M602.7 997.2V1003.7M626.3 997.2V1003.7M649.8 997.2V1003.7" stroke="#000" stroke-width="1.85" fill="none"/>
<text x="508.9" y="802.42" font-size="10.1" font-weight="bold" text-anchor="end" stroke="#000" stroke-width="0.18">1.5</text>
<text x="508.9" y="868.52" font-size="10.1" font-weight="bold" text-anchor="end" stroke="#000" stroke-width="0.18">1.0</text>
<text x="508.9" y="934.72" font-size="10.1" font-weight="bold" text-anchor="end" stroke="#000" stroke-width="0.18">0.5</text>
<text x="508.9" y="1000.82" font-size="10.1" font-weight="bold" text-anchor="end" stroke="#000" stroke-width="0.18">0.0</text>
<text transform="translate(487.6 898) rotate(-90)" font-size="6.66" font-weight="bold" text-anchor="middle" dy="2.38" stroke="#000" stroke-width="0.2">Relative mRNA levels Fold of CTR</text>
<text transform="translate(534.5 1012.8) rotate(-45)" font-size="9.5" font-weight="bold" text-anchor="end" stroke="#000" stroke-width="0.18">CTR</text>
<text transform="translate(558 1012.8) rotate(-45)" font-size="9.5" font-weight="bold" text-anchor="end" stroke="#000" stroke-width="0.18">CTR+INS</text>
<text transform="translate(581.5 1012.8) rotate(-45)" font-size="9.5" font-weight="bold" text-anchor="end" stroke="#000" stroke-width="0.18">TNF-α</text>
<text transform="translate(605 1012.8) rotate(-45)" font-size="9.5" font-weight="bold" text-anchor="end" stroke="#000" stroke-width="0.18">TNF-α+INS</text>
<text transform="translate(628.6 1012.8) rotate(-45)" font-size="9.5" font-weight="bold" text-anchor="end" stroke="#000" stroke-width="0.18">TNF-α+LAD</text>
<text transform="translate(652.1 1012.8) rotate(-45)" font-size="9.5" font-weight="bold" text-anchor="end" stroke="#000" stroke-width="0.18">TNF-α+LAD+INS</text>
<path d="M555.7 822.3V814.5H649.8V822.3M602.7 814.5V822.3" stroke="#000" stroke-width="1.5" fill="none"/>
<text x="579.2" y="808.52" font-size="6.99" font-style="italic" font-weight="bold" text-anchor="middle" fill="#000" stroke="#000" stroke-width="0.3">###</text>
<text x="626.3" y="808.52" font-size="6.99" font-style="italic" font-weight="bold" text-anchor="middle" fill="#000" stroke="#000" stroke-width="0.3">###</text>
<text x="555.7" y="830.31" font-size="6.8" font-weight="bold" text-anchor="middle" fill="#000">***</text>
<text x="649.8" y="859.51" font-size="6.8" font-weight="bold" text-anchor="middle" fill="#000">***</text>
</g>
<rect x="101.4" y="33.3" width="2.2" height="0.9" fill="#333"/>
<g>
<text transform="translate(183.8 1079.8) scale(0.88 1)" font-size="19.6" font-weight="bold" stroke="#000" stroke-width="0.4">L</text>
<text x="231.8" y="1109.8" font-size="7.85" font-weight="bold" text-anchor="middle" stroke="#000" stroke-width="0.15">CYTOPLASMIC</text>
<text x="231.8" y="1120.3" font-size="7.85" font-weight="bold" text-anchor="middle" stroke="#000" stroke-width="0.15">GLUT4</text>
<text x="231.8" y="1147" font-size="7.85" font-weight="bold" text-anchor="middle" stroke="#000" stroke-width="0.15">MEMBRANE</text>
<text x="231.8" y="1157.5" font-size="7.85" font-weight="bold" text-anchor="middle" stroke="#000" stroke-width="0.15">GLUT4</text>
<text x="231.8" y="1185.1" font-size="7.85" font-weight="bold" text-anchor="middle" stroke="#000" stroke-width="0.15">CYTOPLASMIC</text>
<text x="231.8" y="1195.6" font-size="7.85" font-weight="bold" text-anchor="middle" stroke="#000" stroke-width="0.15">β-ACTIN</text>
<text x="231.8" y="1216.6" font-size="7.85" font-weight="bold" text-anchor="middle" stroke="#000" stroke-width="0.15">MEMBRANE</text>
<text x="231.8" y="1227.1" font-size="7.85" font-weight="bold" text-anchor="middle" stroke="#000" stroke-width="0.15">COMASSIE</text>
<clipPath id="c4"><rect x="286.2" y="1209.8" width="151.5" height="28.6"/></clipPath>
<g clip-path="url(#c4)">
<rect x="286.2" y="1209.8" width="151.5" height="28.6" fill="#a9a9a9"/>
<rect x="281.2" y="1205.8" width="161.5" height="11" fill="#bdbdbd" filter="url(#bl2)"/>
<rect x="281.2" y="1219.2" width="161.5" height="2.6" fill="#8e8e8e" filter="url(#bl4)"/>
<rect x="284.8" y="1205.8" width="6.4" height="36.6" fill="#e2e2e2" filter="url(#bl3)"/>
<rect x="311.7" y="1205.8" width="6.4" height="36.6" fill="#e2e2e2" filter="url(#bl3)"/>
<rect x="336.1" y="1205.8" width="6.4" height="36.6" fill="#e2e2e2" filter="url(#bl3)"/>
<rect x="361.1" y="1205.8" width="6.4" height="36.6" fill="#e2e2e2" filter="url(#bl3)"/>
<rect x="386.4" y="1205.8" width="6.4" height="36.6" fill="#e2e2e2" filter="url(#bl3)"/>
<rect x="411.7" y="1205.8" width="6.4" height="36.6" fill="#e2e2e2" filter="url(#bl3)"/>
</g>
<rect x="293.6" y="1113.5" width="15.6" height="3.6" rx="1.4" fill="#0c0c0c" opacity="1" filter="url(#bl)" transform="rotate(9 301.4 1115.3)"/>
<rect x="318.6" y="1115" width="15.6" height="3.2" rx="1.4" fill="#0c0c0c" opacity="0.95" filter="url(#bl)" transform="rotate(3 326.4 1116.6)"/>
<rect x="342.9" y="1115.8" width="15.6" height="3.0" rx="1.4" fill="#0c0c0c" opacity="0.92" filter="url(#bl)" transform="rotate(0 350.7 1117.3)"/>
<rect x="367" y="1115.9" width="15.6" height="2.8" rx="1.4" fill="#0c0c0c" opacity="0.9" filter="url(#bl)" transform="rotate(0 374.8 1117.3)"/>
<rect x="390.8" y="1115.2" width="15.6" height="2.8" rx="1.4" fill="#0c0c0c" opacity="0.88" filter="url(#bl)" transform="rotate(-2 398.6 1116.6)"/>
<rect x="415.9" y="1114" width="15.6" height="2.6" rx="1.4" fill="#0c0c0c" opacity="0.8" filter="url(#bl)" transform="rotate(-6 423.7 1115.3)"/>
<rect x="291" y="1153.1" width="13.0" height="2.0" rx="1" fill="#222" opacity="0.42" filter="url(#bl)" transform="rotate(0 297.5 1154.1)"/>
<rect x="315.1" y="1152.5" width="15.4" height="2.8" rx="1" fill="#222" opacity="0.68" filter="url(#bl)" transform="rotate(-1 322.8 1153.9)"/>
<rect x="342.3" y="1152.1" width="11" height="1.8" rx="1" fill="#222" opacity="0.16" filter="url(#bl)" transform="rotate(-5 347.8 1153)"/>
<rect x="389.75" y="1150.2" width="10.5" height="1.6" rx="1" fill="#222" opacity="0.1" filter="url(#bl)" transform="rotate(-5 395 1151)"/>
<rect x="412.15" y="1148" width="16.5" height="2.2" rx="1" fill="#222" opacity="0.33" filter="url(#bl)" transform="rotate(-8 420.4 1149.1)"/>
<rect x="291.6" y="1186.5" width="16.5" height="5.6" rx="1.2" fill="#222" opacity="0.36" filter="url(#bl4)"/>
<rect x="315.8" y="1186.5" width="15.2" height="5.6" rx="1.2" fill="#222" opacity="0.55" filter="url(#bl4)"/>
<rect x="337.4" y="1186.5" width="16" height="5.6" rx="1.2" fill="#222" opacity="0.55" filter="url(#bl4)"/>
<rect x="359.8" y="1186.2" width="17" height="5.6" rx="1.2" fill="#222" opacity="0.66" filter="url(#bl4)"/>
<rect x="382" y="1185.1" width="17.7" height="5.6" rx="1.2" fill="#222" opacity="0.76" filter="url(#bl4)"/>
<rect x="404.9" y="1184.1" width="18.4" height="5.6" rx="1.2" fill="#222" opacity="0.8" filter="url(#bl4)"/>
<rect x="286.2" y="1104.1" width="151.5" height="27.8" fill="none" stroke="#1e1e1e" stroke-width="0.9"/>
<rect x="286.2" y="1138.1" width="151.5" height="28.9" fill="none" stroke="#1e1e1e" stroke-width="0.9"/>
<rect x="286.2" y="1175.2" width="151.5" height="28.6" fill="none" stroke="#1e1e1e" stroke-width="0.9"/>
<rect x="286.2" y="1209.8" width="151.5" height="28.6" fill="none" stroke="#1e1e1e" stroke-width="0.9"/>
</g>
</svg>
</body></html>
